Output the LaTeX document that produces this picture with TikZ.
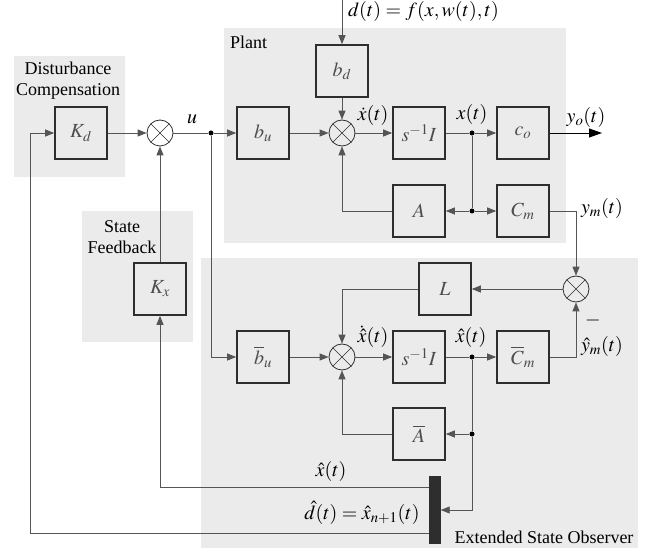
\documentclass[tikz,border=0pt]{standalone}
\usepackage{mathptmx}
\usepackage[no-math]{fontspec}
\setmainfont{Liberation Serif}
\usepackage{tikz}
\usetikzlibrary{positioning,arrows.meta,calc}

\definecolor{zone}{HTML}{EBEBEB}
\definecolor{wire}{HTML}{555555}
\definecolor{ink}{HTML}{2E2E2E}

\begin{document}
\begin{tikzpicture}[x=1pt, y=-1pt,
  font=\fontsize{18}{21}\selectfont,
  blk/.style={draw=ink, line width=1.6pt, rectangle, minimum size=52pt, inner sep=0pt, text=ink!85,
    font=\fontsize{20}{22}\selectfont},
  sumnode/.style={draw=ink, line width=0.8pt, circle, minimum size=26pt, inner sep=0pt,
    path picture={\draw[ink, line width=0.7pt] (path picture bounding box.north west) -- (path picture bounding box.south east)
      (path picture bounding box.north east) -- (path picture bounding box.south west);}},
  dot/.style={circle, fill=black, inner sep=0pt, minimum size=5pt},
  arrow/.style={-{Triangle[length=9pt,width=7pt]}, draw=wire, line width=0.9pt},
  line/.style={draw=wire, line width=0.9pt},
  lbl/.style={inner sep=1pt, font=\fontsize{20}{22}\selectfont},
  txt/.style={inner sep=1pt, align=center},
]
\useasboundingbox (0,0) rectangle (649,548);
% --- shaded zones ---
\fill[zone] (14,56) rectangle (125,177);
\fill[zone] (224,28) rectangle (566,243);
\fill[zone] (82,211) rectangle (193,342);
\fill[zone] (201,258) rectangle (638,548);
\node[txt] (tdc) at (68,81) {Disturbance\\Compensation};
\node[txt, anchor=west] (tpl) at (229,42) {Plant};
\node[txt] (tsf) at (122,237) {State\\Feedback};
\node[txt] (teso) at (544,537) {Extended State Observer};
% --- controller ---
\node[blk] (kd) at (81,133) {$K_d$};
\node[sumnode] (s1) at (160,133) {};
\node[blk] (kx) at (160,289) {$K_x$};
\node[dot] (j1) at (211,133) {};
% --- plant ---
\node[blk] (bu) at (263,133) {$b_u$};
\node[blk] (bd) at (342,71) {$b_d$};
\node[sumnode] (s2) at (342,133) {};
\node[blk] (int) at (419,133) {$s^{-1}I$};
\node[dot] (j2) at (472,133) {};
\node[blk] (co) at (523,133) {$c_o$};
\node[blk] (a) at (419,211) {$A$};
\node[dot] (j3) at (472,211) {};
\node[blk] (cm) at (523,211) {$C_m$};
\coordinate (din) at (342,0);
\coordinate (yout) at (602,133);
% --- observer ---
\node[sumnode] (s3) at (576,289) {};
\node[blk] (l) at (445,289) {$L$};
\node[blk] (bub) at (263,357) {$\overline{b}_u$};
\node[sumnode] (s4) at (342,357) {};
\node[blk] (inth) at (419,357) {$s^{-1}I$};
\node[dot] (j4) at (472,357) {};
\node[blk] (cmb) at (523,357) {$\overline{C}_m$};
\node[blk] (ab) at (419,434) {$\overline{A}$};
\node[dot] (j5) at (472,434) {};
\node[fill=ink, draw=ink, minimum width=11pt, minimum height=67pt, inner sep=0pt] (mux) at (435,510) {};
% --- signal labels ---
\node[lbl, anchor=west] (ld) at (347,12) {$d(t) = f(x, w(t), t)$};
\node[lbl] (lu) at (192,119) {$u$};
\node[lbl] (lxd) at (373,116) {$\dot{x}(t)$};
\node[lbl] (lx) at (472,115) {$x(t)$};
\node[lbl] (lyo) at (586,118) {$y_o(t)$};
\node[lbl] (lym) at (602,209) {$y_m(t)$};
\node[lbl] (lxhd) at (373,337) {$\dot{\hat{x}}(t)$};
\node[lbl] (lxh) at (471,338) {$\hat{x}(t)$};
\node[lbl] (lyh) at (602,347) {$\hat{y}_m(t)$};
\node[lbl] (lneg) at (593,321) {$-$};
\node[lbl] (lxho) at (331,472) {$\hat{x}(t)$};
\node[lbl] (ldh) at (362,513) {$\hat{d}(t) = \hat{x}_{n+1}(t)$};
% --- plant wires ---
\draw[arrow] (kd) -- (s1);
\draw[line] (s1) -- (j1);
\draw[arrow] (j1) -- (bu);
\draw[arrow] (bu) -- (s2);
\draw[arrow] (din) -- (bd);
\draw[arrow] (bd) -- (s2);
\draw[arrow] (s2) -- (int);
\draw[line] (int) -- (j2);
\draw[arrow] (j2) -- (co);
\draw[-{Triangle[length=13pt,width=9pt]}, draw=black, line width=0.9pt] (co) -- (yout);
\draw[line] (j2) -- (j3);
\draw[arrow] (j3) -- (a);
\draw[arrow] (j3) -- (cm);
\draw[arrow] (a) -| (s2);
\draw[arrow] (cm) -| (s3);
% --- observer wires ---
\draw[arrow] (s3) -- (l);
\draw[arrow] (l) -| (s4);
\draw[arrow] (j1) |- (bub);
\draw[arrow] (bub) -- (s4);
\draw[arrow] (s4) -- (inth);
\draw[line] (inth) -- (j4);
\draw[arrow] (j4) -- (cmb);
\draw[arrow] (cmb) -| (s3);
\draw[line] (j4) -- (j5);
\draw[arrow] (j5) -- (ab);
\draw[arrow] (ab) -| (s4);
\draw[arrow] (j5) |- (mux.east);
% --- feedback wires ---
\draw[arrow] (mux.west |- 0,487) -| (kx);
\draw[arrow] (kx) -- (s1);
\draw[arrow] (mux.west |- 0,533) -| (30,133) -- (kd);
\end{tikzpicture}
\end{document}
